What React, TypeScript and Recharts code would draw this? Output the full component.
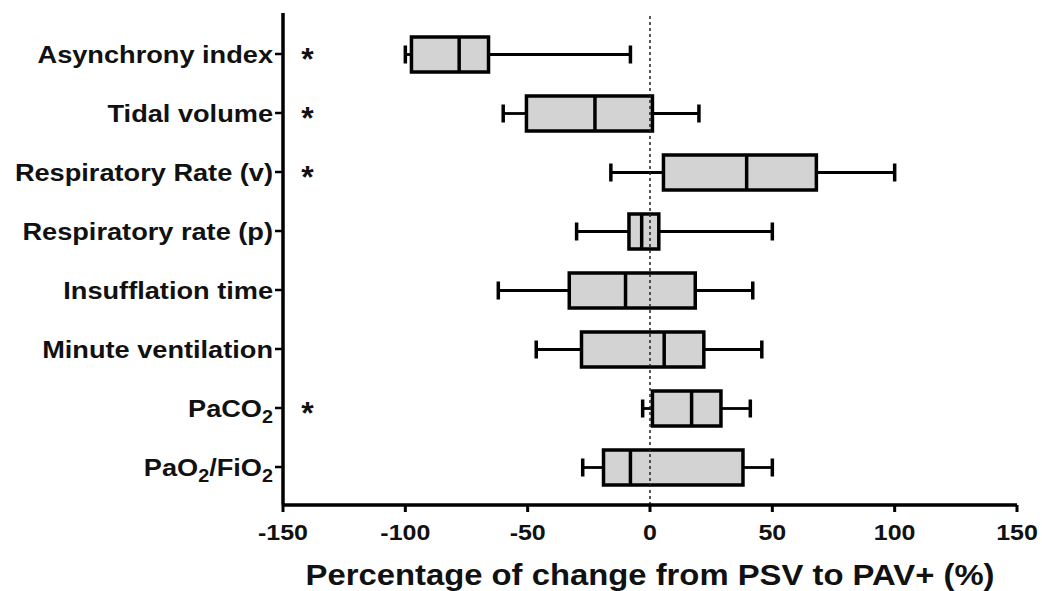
import React from 'react';
import { ComposedChart, Bar, XAxis, YAxis, ReferenceLine } from 'recharts';

const categories = [
  'Asynchrony index',
  'Tidal volume',
  'Respiratory Rate (v)',
  'Respiratory rate (p)',
  'Insufflation time',
  'Minute ventilation',
  'PaCO2',
  'PaO2/FiO2',
];
const whiskerLow = [-100, -60, -16, -30, -62, -46.5, -3, -27.5];
const quartile1 = [-97.5, -50.5, 5.5, -8.6, -33, -28, 1, -19];
const medians = [-78, -22.5, 39.5, -3.4, -10, 5.8, 17, -8];
const quartile3 = [-66, 1, 68, 3.6, 18.5, 22, 29, 38];
const whiskerHigh = [-8, 20, 100, 50, 42, 45.7, 41, 50];
const significant = [true, true, true, false, false, false, true, false];
const xTicks = [-150, -100, -50, 0, 50, 100, 150];
const xTitle = 'Percentage of change from PSV to PAV+ (%)';
const asteriskAt = -140;

const data = categories.map((name, i) => ({
  name,
  range: [whiskerLow[i], whiskerHigh[i]],
  min: whiskerLow[i],
  q1: quartile1[i],
  median: medians[i],
  q3: quartile3[i],
  max: whiskerHigh[i],
  sig: significant[i],
}));

const FONT = '"Liberation Sans", Arial, Helvetica, sans-serif';

const BoxShape = (props: any) => {
  const { x, y, width, height, payload } = props;
  const { min, q1, median, q3, max, sig } = payload;
  const px = (v: number) => x + ((v - min) / (max - min)) * width;
  const cy = y + height / 2;
  const boxH = 35;
  const capH = 18;
  return (
    <g>
      <line x1={px(min)} x2={px(q1)} y1={cy} y2={cy} stroke="#000" strokeWidth={2.8} />
      <line x1={px(q3)} x2={px(max)} y1={cy} y2={cy} stroke="#000" strokeWidth={2.8} />
      <line x1={px(min)} x2={px(min)} y1={cy - capH / 2} y2={cy + capH / 2} stroke="#000" strokeWidth={3.5} />
      <line x1={px(max)} x2={px(max)} y1={cy - capH / 2} y2={cy + capH / 2} stroke="#000" strokeWidth={3.5} />
      <rect
        x={Math.min(px(q1), px(q3))}
        y={cy - boxH / 2}
        width={Math.abs(px(q3) - px(q1))}
        height={boxH}
        fill="#d3d3d3"
        stroke="#000"
        strokeWidth={3.5}
      />
      <line x1={px(median)} x2={px(median)} y1={cy - boxH / 2} y2={cy + boxH / 2} stroke="#000" strokeWidth={3.5} />
      {sig ? (
        <text x={px(asteriskAt)} y={cy + 15} textAnchor="middle" fontFamily={FONT} fontWeight="bold" fontSize={32} fill="#111">
          *
        </text>
      ) : null}
    </g>
  );
};

const YTick = (props: any) => {
  const { x, y, payload } = props;
  const label: string = String(payload.value);
  const parts = label.split(/(\d)/).filter((p) => p.length > 0);
  const children: any[] = [];
  let sub = false;
  parts.forEach((p, i) => {
    const isDigit = /^\d$/.test(p);
    let dy = 0;
    if (isDigit && !sub) { dy = 6; sub = true; }
    else if (!isDigit && sub) { dy = -6; sub = false; }
    children.push(
      <tspan key={i} dy={dy} fontSize={isDigit ? 18 : 24.7}>{p}</tspan>
    );
  });
  return (
    <g transform={`translate(${x},${y}) scale(1.1,1)`}>
      <text x={0} y={9} textAnchor="end" fontFamily={FONT} fontWeight="bold" fontSize={24.7} fill="#111">
        {children}
      </text>
    </g>
  );
};

const XTick = (props: any) => {
  const { x, payload } = props;
  return (
    <g transform={`translate(${x},540) scale(1.12,1)`}>
      <text x={0} y={0} textAnchor="middle" fontFamily={FONT} fontWeight="bold" fontSize={22.3} fill="#111">
        {payload.value}
      </text>
    </g>
  );
};

const XTitle = (props: any) => {
  const vb = props.viewBox || {};
  const cx = (vb.x ?? 283) + (vb.width ?? 734) / 2;
  return (
    <g transform={`translate(${cx},585) scale(1.08,1)`}>
      <text x={0} y={0} textAnchor="middle" fontFamily={FONT} fontWeight="bold" fontSize={30.4} fill="#111">
        {xTitle}
      </text>
    </g>
  );
};

export default function App() {
  return (
    <div style={{ position: 'absolute', left: 0, top: 0, background: '#fff' }}>
      <ComposedChart
        width={1042}
        height={591}
        data={data}
        layout="vertical"
        margin={{ top: 13, right: 25, bottom: 0, left: 0 }}
      >
        <XAxis
          type="number"
          domain={[-150, 150]}
          ticks={xTicks}
          interval={0}
          height={86}
          axisLine={{ stroke: '#000', strokeWidth: 3.5 }}
          tickLine={{ stroke: '#000', strokeWidth: 3 }}
          tickSize={7}
          tick={<XTick />}
          label={{ content: (p: any) => <XTitle {...p} /> }}
        />
        <YAxis
          type="category"
          dataKey="name"
          width={283}
          padding={{ top: 11.5, bottom: 8.5 }}
          axisLine={{ stroke: '#000', strokeWidth: 3.5 }}
          tickLine={{ stroke: '#000', strokeWidth: 2.5 }}
          tickSize={8}
          interval={0}
          tick={<YTick />}
        />
        <ReferenceLine x={0} stroke="#222" strokeWidth={1.5} strokeDasharray="3 3" />
        <Bar dataKey="range" barSize={36} shape={<BoxShape />} isAnimationActive={false} />
      </ComposedChart>
    </div>
  );
}
